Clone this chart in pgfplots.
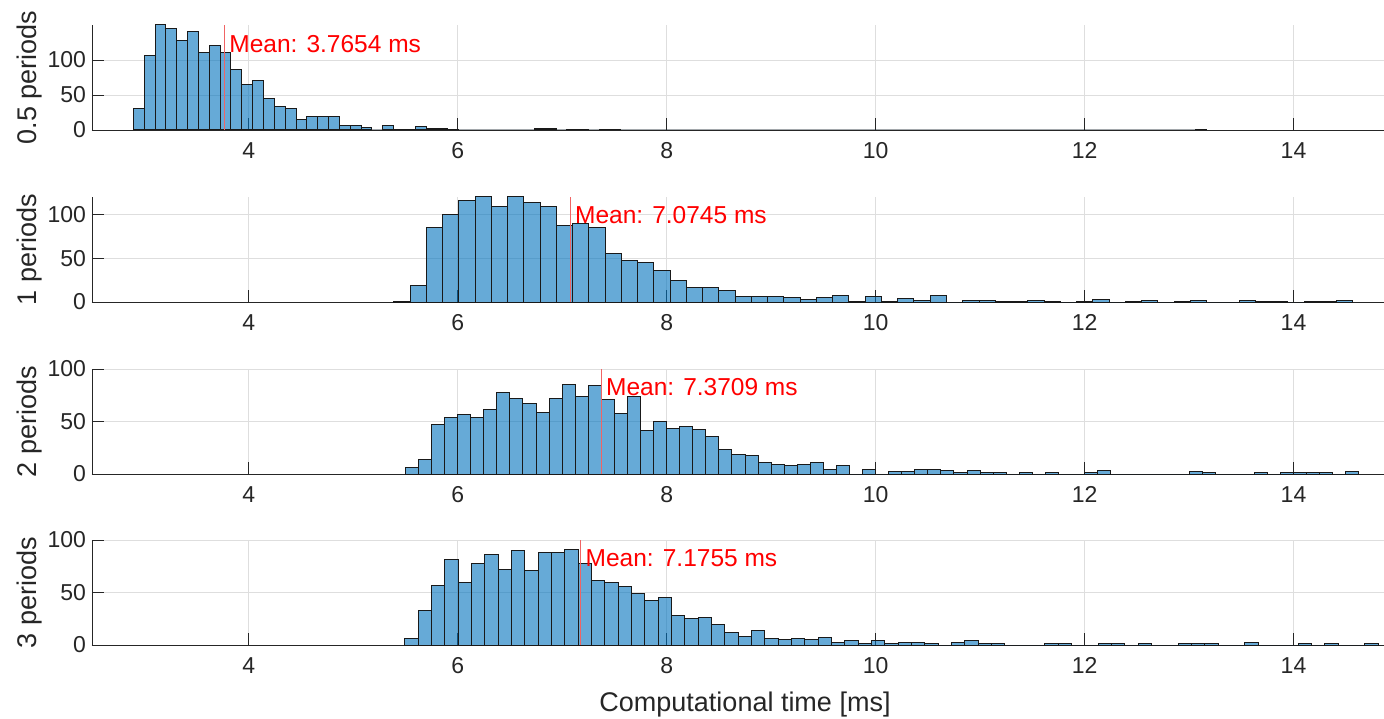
\documentclass[border=0pt]{standalone}
\usepackage{pgfplots}
\pgfplotsset{compat=1.18}
\usepackage{pgfplotstable}
\usepackage{fontspec}
\setmainfont{Liberation Sans}
\definecolor{axc}{RGB}{38,38,38}
\definecolor{gridc}{RGB}{222,222,222}
\definecolor{barc}{rgb}{0,0.447,0.741}
\definecolor{meanc}{RGB}{240,100,100}

\pgfplotstableread{
x y
2.897 30
3.001 106
3.104 150
3.208 145
3.312 128
3.416 141
3.519 110
3.623 120
3.727 111
3.830 86
3.934 65
4.038 71
4.141 45
4.245 33
4.349 30
4.453 15
4.556 19
4.660 19
4.764 19
4.867 6
4.971 6
5.075 4
5.178 0
5.282 6
5.386 1
5.490 1
5.593 5
5.697 2
5.801 2
5.904 1
6.008 0
6.734 2
6.838 2
6.941 0
7.045 1
7.149 1
7.252 0
7.356 1
7.460 1
7.563 0
13.060 1
13.164 0
}\dataA

\pgfplotstableread{
x y
5.388 1
5.544 19
5.699 85
5.855 100
6.010 116
6.166 121
6.322 109
6.477 121
6.633 114
6.788 109
6.944 87
7.100 90
7.255 85
7.411 55
7.566 47
7.722 45
7.878 36
8.033 25
8.189 16
8.344 16
8.500 13
8.656 6
8.811 6
8.967 6
9.122 5
9.278 3
9.434 5
9.589 7
9.745 1
9.900 6
10.056 1
10.212 4
10.367 2
10.523 7
10.678 0
10.834 2
10.990 2
11.145 1
11.301 1
11.456 2
11.612 1
11.768 0
11.923 1
12.079 3
12.234 0
12.390 1
12.546 2
12.701 0
12.857 1
13.012 2
13.168 0
13.479 2
13.635 1
13.790 1
13.946 0
14.102 1
14.257 1
14.413 2
14.568 0
}\dataB

\pgfplotstableread{
x y
5.500 6
5.625 14
5.750 47
5.875 54
6.000 57
6.125 54
6.250 61
6.375 78
6.500 72
6.625 67
6.750 59
6.875 72
7.000 85
7.125 74
7.250 84
7.375 71
7.500 58
7.625 74
7.750 41
7.875 50
8.000 43
8.125 45
8.250 42
8.375 36
8.500 23
8.625 19
8.750 18
8.875 11
9.000 9
9.125 8
9.250 9
9.375 11
9.500 4
9.625 8
9.750 0
9.875 4
10.000 0
10.125 2
10.250 2
10.375 4
10.500 4
10.625 3
10.750 1
10.875 3
11.000 1
11.125 1
11.250 0
11.375 1
11.500 0
11.625 1
11.750 0
12.000 1
12.125 3
12.250 0
13.000 2
13.125 1
13.250 0
13.625 1
13.750 0
13.875 1
14.000 1
14.125 1
14.250 1
14.375 0
14.500 2
14.625 0
}\dataC

\pgfplotstableread{
x y
5.494 6
5.622 33
5.749 57
5.877 81
6.004 60
6.132 78
6.260 86
6.387 72
6.515 90
6.642 71
6.770 88
6.898 88
7.025 91
7.153 78
7.280 61
7.408 60
7.536 56
7.663 49
7.791 42
7.918 45
8.046 28
8.174 25
8.301 26
8.429 20
8.556 12
8.684 8
8.812 14
8.939 6
9.067 5
9.194 6
9.322 5
9.450 7
9.577 2
9.705 4
9.832 1
9.960 4
10.088 1
10.215 2
10.343 2
10.470 1
10.598 0
10.726 2
10.853 4
10.981 1
11.108 1
11.236 0
11.619 1
11.746 1
11.874 0
12.129 1
12.257 1
12.384 0
12.512 1
12.640 0
12.895 1
13.022 1
13.150 1
13.278 0
13.533 2
13.660 0
14.043 1
14.171 0
14.298 1
14.426 0
14.681 1
14.809 0
}\dataD

\pgfplotsset{
  hist/.style={
    scale only axis, width=1306pt, height=105pt,
    xmin=2.5, xmax=15, ymin=0,
    axis x line*=bottom, axis y line*=left,
    axis line style={axc, line width=0.9pt, -},
    xtick={4,6,8,10,12,14},
    ytick={0,50,100},
    tick align=inside,
    major tick length=12pt,
    tick style={axc, line width=0.9pt},
    grid=major,
    major grid style={gridc, line width=0.9pt},
    tick label style={font=\fontsize{23}{23}\selectfont, text=axc},
    /pgf/number format/assume math mode=true,
    xticklabel style={yshift=-9pt},
    yticklabel style={xshift=-2.5pt},
    ylabel style={at={(axis description cs:-0.0475,0.5)}, anchor=center, font=\fontsize{27}{27}\selectfont, text=axc},
    xlabel style={font=\fontsize{27}{27}\selectfont, text=axc},
  },
}
\tikzset{
  bars/.style={ybar interval, fill=barc, fill opacity=0.6, draw={rgb,255:red,25;green,25;blue,25}, line width=1pt},
  meanline/.style={meanc, line width=0.6pt},
  meantext/.style={anchor=base west, text=red, font=\fontsize{24.5}{24.5}\selectfont, inner sep=0pt, xshift=5pt},
}

\begin{document}
\begin{tikzpicture}
\begin{axis}[hist, at={(92pt,-130pt)}, anchor=south west, ymax=150, ylabel={0.5 periods}]
\addplot[bars] table[x=x,y=y] {\dataA};
\addplot[meanline, forget plot] coordinates {(3.7654,0) (3.7654,150)};
\node[meantext] at (axis cs:3.7654,111) {Mean: 3.7654 ms};
\end{axis}

\begin{axis}[hist, at={(92pt,-302pt)}, anchor=south west, ymax=120, ylabel={1 periods}]
\addplot[bars] table[x=x,y=y] {\dataB};
\addplot[meanline, forget plot] coordinates {(7.0745,0) (7.0745,120)};
\node[meantext] at (axis cs:7.0745,90) {Mean: 7.0745 ms};
\end{axis}

\begin{axis}[hist, at={(92pt,-474pt)}, anchor=south west, ymax=100, ylabel={2 periods}]
\addplot[bars] table[x=x,y=y] {\dataC};
\addplot[meanline, forget plot] coordinates {(7.3709,0) (7.3709,100)};
\node[meantext] at (axis cs:7.3709,75) {Mean: 7.3709 ms};
\end{axis}

\begin{axis}[hist, at={(92pt,-645pt)}, anchor=south west, ymax=100, ylabel={3 periods},
  xlabel={Computational time [ms]},
  xlabel style={at={(axis description cs:0.5,-0.63)}, anchor=base}]
\addplot[bars] table[x=x,y=y] {\dataD};
\addplot[meanline, forget plot] coordinates {(7.1755,0) (7.1755,100)};
\node[meantext] at (axis cs:7.1755,75) {Mean: 7.1755 ms};
\end{axis}

\pgfresetboundingbox
\useasboundingbox (0pt,0pt) rectangle (1384pt,-719pt);
\end{tikzpicture}
\end{document}
